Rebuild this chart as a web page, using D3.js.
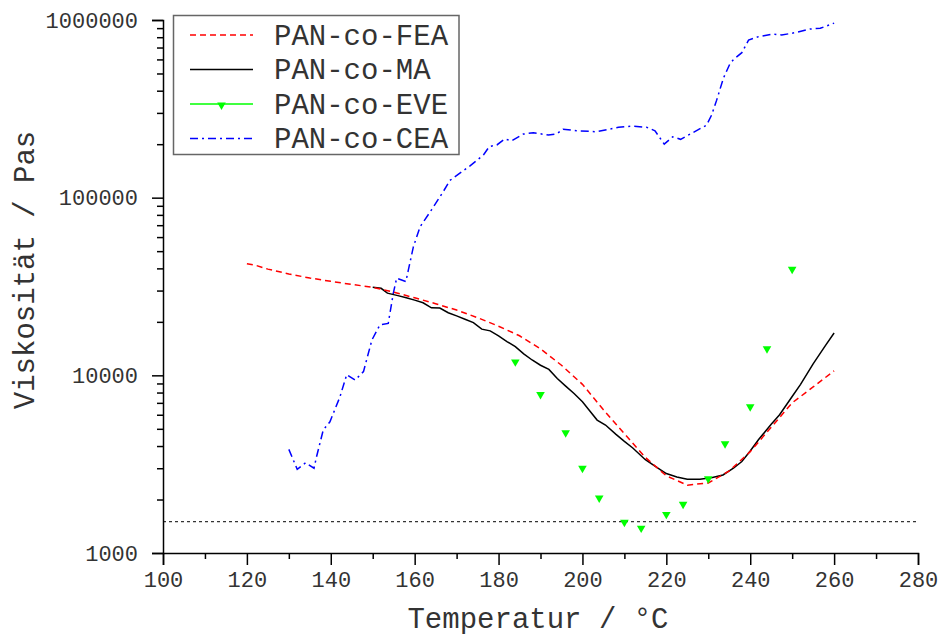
<!DOCTYPE html>
<html>
<head>
<meta charset="utf-8">
<script src="https://cdn.jsdelivr.net/npm/d3@7"></script>
<style>
  body { margin: 0; background: #fff; }
  svg text { font-family: "Courier New", "Liberation Mono", monospace; fill: #333; }
</style>
</head>
<body>
<svg id="chart" width="938" height="637"></svg>
<script>
// series names
const seriesNames = ["PAN-co-FEA", "PAN-co-MA", "PAN-co-EVE", "PAN-co-CEA"];

// PAN-co-FEA (temperature °C, viscosity Pa s)
const feaT = [120, 122, 125, 130, 135, 140, 145, 150, 155, 160, 165, 170, 175, 180, 185,
  190, 195, 200, 205, 210, 215, 220, 225, 230, 235, 240, 245, 250, 255, 260];
const feaV = [42500, 41700, 39600, 37200, 35300, 33800, 32500, 31300, 29400, 27300, 25300,
  23300, 21100, 18900, 16700, 14100, 11400, 8900, 6400, 4700, 3450, 2720, 2410, 2480,
  2900, 3720, 5100, 7000, 8600, 10600];

// PAN-co-MA
const maT = [150, 152, 153.5, 156, 158, 160, 162, 164, 166, 168, 170, 172, 174, 176, 178,
  180, 182, 184, 186, 188, 190, 192, 194, 196, 198, 200, 202, 203.5, 205.5, 208, 210, 212,
  215, 218, 220, 222.5, 225, 228, 231, 233.5, 236, 238, 240, 242, 245, 247, 250, 252, 255,
  258, 260];
const maV = [31300, 30900, 29000, 28100, 27300, 26500, 25600, 24000, 23900, 22500, 21600,
  20700, 19800, 18200, 17800, 16700, 15500, 14500, 13200, 12200, 11400, 10800, 9600, 8700,
  7900, 7100, 6200, 5600, 5250, 4650, 4250, 3900, 3350, 3000, 2800, 2680, 2600, 2600, 2660,
  2750, 3000, 3270, 3750, 4350, 5300, 6000, 7600, 8900, 11600, 14800, 17300];

// PAN-co-EVE (points only)
const eveT = [184, 190, 196, 200, 204, 210, 214, 220, 224, 230, 234, 240, 244, 250];
const eveV = [11900, 7800, 4750, 3000, 2040, 1490, 1380, 1650, 1880, 2620, 4120, 6650,
  14100, 39500];

// PAN-co-CEA
const ceaT = [130, 132, 134, 136, 136.6, 138.2, 139.8, 142.2, 143.8, 145.8, 147.8, 149.8,
  151.7, 153.7, 154.9, 155.7, 157.9, 158.5, 159.7, 161.3, 164.1, 166.8, 168.4, 173.2,
  176.4, 177.8, 179.6, 181.5, 183.1, 185.9, 188.3, 191.9, 193.9, 195.4, 198.6, 203.4,
  208.6, 211.8, 215.3, 217.3, 219.5, 221.5, 223.4, 229.6, 230.8, 232, 233.6, 235.2, 236.1,
  238, 239.6, 242, 245.5, 247.5, 251.1, 254.3, 256.7, 260];
const ceaV = [3830, 2960, 3220, 3000, 3480, 4920, 5480, 7580, 10100, 9410, 10500, 15800,
  19200, 19600, 28900, 35200, 33700, 39200, 53000, 68600, 86000, 108000, 125000, 151000,
  174000, 194000, 198000, 214000, 209000, 228000, 232000, 225000, 229000, 243000, 238000,
  235000, 249000, 253000, 249000, 238000, 200000, 220000, 213000, 256000, 292000, 354000,
  470000, 570000, 601000, 655000, 771000, 806000, 834000, 823000, 852000, 890000, 898000,
  960000];

// reference level
const refLevel = 1500;

// axes
const xTicks = [100, 120, 140, 160, 180, 200, 220, 240, 260, 280];
const xMinorTicks = [110, 130, 150, 170, 190, 210, 230, 250, 270];
const yTicks = [1000, 10000, 100000, 1000000];
const xTitle = "Temperatur / °C";
const yTitle = "Viskosität / Pas";

const svg = d3.select("#chart");
const plotLeft = 163, plotRight = 918, plotTop = 20, plotBottom = 553;

const x = d3.scaleLinear().domain([100, 280]).range([plotLeft, plotRight]);
const y = d3.scaleLog().domain([1000, 1000000]).range([plotBottom, plotTop]);

const zip = (ts, vs) => ts.map((t, i) => [t, vs[i]]);
const line = d3.line().x(d => x(d[0])).y(d => y(d[1]));

// dotted reference line
svg.append("line")
  .attr("x1", plotLeft).attr("x2", plotRight)
  .attr("y1", y(refLevel)).attr("y2", y(refLevel))
  .attr("stroke", "#000").attr("stroke-width", 1)
  .attr("stroke-dasharray", "3,3");

// series lines
svg.append("path").datum(zip(ceaT, ceaV)).attr("d", line)
  .attr("fill", "none").attr("stroke", "#0000ff").attr("stroke-width", 1.5)
  .attr("stroke-dasharray", "8,4,2,4");

svg.append("path").datum(zip(maT, maV)).attr("d", line)
  .attr("fill", "none").attr("stroke", "#000").attr("stroke-width", 1.5);

svg.append("path").datum(zip(feaT, feaV)).attr("d", line)
  .attr("fill", "none").attr("stroke", "#ff0000").attr("stroke-width", 1.5)
  .attr("stroke-dasharray", "6,4");

const tri = d3.symbol().type(d3.symbolTriangle).size(32);
svg.append("g").selectAll("path")
  .data(zip(eveT, eveV))
  .enter().append("path")
  .attr("d", tri)
  .attr("transform", d => `translate(${x(d[0])},${y(d[1])}) rotate(180)`)
  .attr("fill", "#00ff00");

// x axis
const xAxis = svg.append("g").attr("transform", `translate(0,${plotBottom})`)
  .call(d3.axisBottom(x).tickValues(xTicks).tickSize(12).tickPadding(6).tickFormat(d3.format("d")));
svg.append("g").attr("transform", `translate(0,${plotBottom})`)
  .call(d3.axisBottom(x).tickValues(xMinorTicks).tickSize(6).tickFormat(""))
  .select(".domain").remove();

// y axis
const yMinor = [];
for (let p = 1000; p < 1000000; p *= 10) {
  for (let k = 2; k <= 9; k++) yMinor.push(p * k);
}
const yAxis = svg.append("g").attr("transform", `translate(${plotLeft},0)`)
  .call(d3.axisLeft(y).tickValues(yTicks).tickSize(11).tickPadding(14).tickFormat(d3.format("d")));
svg.append("g").attr("transform", `translate(${plotLeft},0)`)
  .call(d3.axisLeft(y).tickValues(yMinor).tickSize(6).tickFormat(""))
  .select(".domain").remove();

svg.selectAll(".domain").attr("stroke-width", 1.5);
svg.selectAll(".tick line").attr("stroke-width", 1.5);
xAxis.selectAll("text").attr("font-size", 22).attr("fill", "#333")
  .attr("font-family", "'Courier New', 'Liberation Mono', monospace");
yAxis.selectAll("text").attr("font-size", 22).attr("fill", "#333")
  .attr("font-family", "'Courier New', 'Liberation Mono', monospace");

// axis titles
svg.append("text")
  .attr("x", 538).attr("y", 628)
  .attr("text-anchor", "middle").attr("font-size", 29)
  .text(xTitle);

svg.append("text")
  .attr("transform", `translate(34,270) rotate(-90)`)
  .attr("text-anchor", "middle").attr("font-size", 29)
  .text(yTitle);

// legend
const legend = svg.append("g");
legend.append("rect")
  .attr("x", 173.5).attr("y", 15.5).attr("width", 285.5).attr("height", 139)
  .attr("fill", "#fff").attr("stroke", "#666").attr("stroke-width", 1.5);

const legendStyles = [
  { color: "#ff0000", dash: "6,4", marker: false },
  { color: "#000", dash: null, marker: false },
  { color: "#00ff00", dash: null, marker: true },
  { color: "#0000ff", dash: "8,4,2,4", marker: false }
];

seriesNames.forEach((name, i) => {
  const yy = 35 + i * 34.5;
  const st = legendStyles[i];
  legend.append("line")
    .attr("x1", 190).attr("x2", 253).attr("y1", yy).attr("y2", yy)
    .attr("stroke", st.color).attr("stroke-width", 1.5)
    .attr("stroke-dasharray", st.dash);
  if (st.marker) {
    legend.append("path").attr("d", tri)
      .attr("transform", `translate(221.5,${yy + 1}) rotate(180)`)
      .attr("fill", st.color);
  }
  legend.append("text")
    .attr("x", 274).attr("y", yy + 9.5)
    .attr("font-size", 29)
    .text(name);
});
</script>
</body>
</html>
